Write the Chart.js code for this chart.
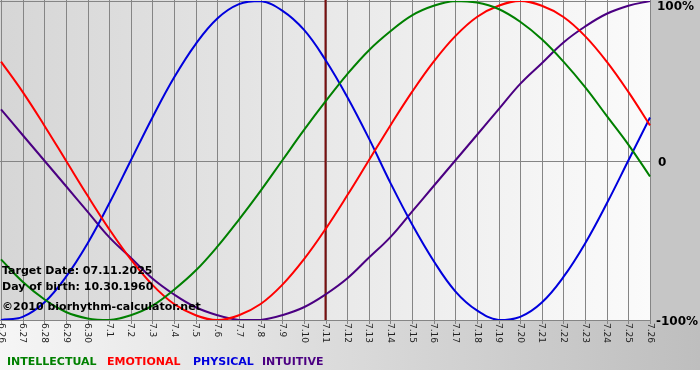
<!DOCTYPE html>
<html>
<head>
<meta charset="utf-8">
<script src="https://cdn.jsdelivr.net/npm/chart.js@4.4.1/dist/chart.umd.min.js"></script>
<style>
  html, body { margin: 0; padding: 0; background: #fff; }
  canvas { display: block; }
</style>
</head>
<body>
<canvas id="bio" width="700" height="380"></canvas>
<script>
// Chart data
const days = ['6.26', '6.27', '6.28', '6.29', '6.30', '7.1', '7.2', '7.3', '7.4', '7.5', '7.6', '7.7', '7.8', '7.9', '7.10',
    '7.11', '7.12', '7.13', '7.14', '7.15', '7.16', '7.17', '7.18', '7.19', '7.20', '7.21', '7.22', '7.23', '7.24', '7.25', '7.26'];
const intellectual = [-62, -76, -87, -95, -99, -100, -97, -91, -81, -69, -54, -37, -19, 0, 19, 37, 54, 69, 81, 91, 97, 100, 99, 95, 87, 76, 62, 46, 28, 10, -10];
const emotional = [62, 43, 22, 0, -22, -43, -62, -78, -90, -97, -100, -97, -90, -78, -62, -43, -22, 0, 22, 43, 62, 78, 90, 97, 100, 97, 90, 78, 62, 43, 22];
const physical = [-100, -98, -89, -73, -52, -27, 0, 27, 52, 73, 89, 98, 100, 94, 82, 63, 40, 14, -14, -40, -63, -82, -94, -100, -98, -89, -73, -52, -27, 0, 27];
const intuitive = [32, 16, 0, -16, -32, -48, -61, -74, -84, -92, -97, -100, -100, -97, -92, -84, -74, -61, -48, -32, -16, 0, 16, 32, 48, 61, 74, 84, 92, 97, 100];
const yTicks = [100, 0, -100];
const yTickLabels = ['100%', '0', '-100%'];
const targetDay = '7.11';
const infoLines = ['Target Date: 07.11.2025', 'Day of birth: 10.30.1960', '\u00a92010 biorhythm-calculator.net'];
const legendNames = ['INTELLECTUAL', 'EMOTIONAL', 'PHYSICAL', 'INTUITIVE'];

const colors = ['#008000', '#ff0000', '#0000dd', '#4b0082'];

// Backgrounds, grid and labels drawn around the chart area
const frame = {
    id: 'frame',
    beforeDraw(chart) {
        const ctx = chart.ctx;
        const a = chart.chartArea;
        const W = chart.width;

        ctx.save();
        // right strip
        ctx.fillStyle = '#c6c6c6';
        ctx.fillRect(a.right, 0, W - a.right, a.bottom + 2);
        // bottom band
        let g = ctx.createLinearGradient(0, 0, W, 0);
        g.addColorStop(0, '#f6f6f6');
        g.addColorStop(1, '#bebebe');
        ctx.fillStyle = g;
        ctx.fillRect(0, a.bottom, W, 370 - a.bottom);
        // plot area
        g = ctx.createLinearGradient(a.left, 0, a.right, 0);
        g.addColorStop(0, '#d6d6d6');
        g.addColorStop(1, '#fbfbfb');
        ctx.fillStyle = g;
        ctx.fillRect(0, 0, a.right, a.bottom);

        // grid
        const x = chart.scales.x, y = chart.scales.y;
        ctx.strokeStyle = '#858585';
        ctx.lineWidth = 1;
        ctx.beginPath();
        days.forEach((d, i) => {
            const px = Math.round(x.getPixelForValue(i)) + 0.5;
            ctx.moveTo(px, 0);
            ctx.lineTo(px, a.bottom + 4);
        });
        yTicks.forEach(v => {
            const py = Math.round(y.getPixelForValue(v)) + 0.5;
            ctx.moveTo(0, py);
            ctx.lineTo(a.right, py);
        });
        ctx.stroke();

        // target day marker
        const tx = x.getPixelForValue(days.indexOf(targetDay));
        ctx.strokeStyle = '#7a1010';
        ctx.lineWidth = 2;
        ctx.beginPath();
        ctx.moveTo(tx, 0);
        ctx.lineTo(tx, a.bottom);
        ctx.stroke();

        // x labels, rotated
        ctx.fillStyle = '#222';
        ctx.font = '9px "DejaVu Sans"';
        ctx.textAlign = 'left';
        ctx.textBaseline = 'middle';
        days.forEach((d, i) => {
            ctx.save();
            ctx.translate(x.getPixelForValue(i), a.bottom + 3);
            ctx.rotate(Math.PI / 2);
            ctx.fillText(d, 0, 0);
            ctx.restore();
        });

        // y labels on the right
        ctx.font = 'bold 12px "DejaVu Sans"';
        ctx.fillStyle = '#000';
        yTicks.forEach((v, i) => {
            const py = y.getPixelForValue(v);
            const lx = i === 1 ? 658 : (v > 0 ? 657 : 656);
            ctx.fillText(yTickLabels[i], lx, Math.min(Math.max(py + 2, 7), a.bottom + 2));
        });

        // legend
        ctx.font = 'bold 11px "DejaVu Sans"';
        const legendX = [7, 107, 193, 262];
        legendNames.forEach((n, i) => {
            ctx.fillStyle = colors[i];
            ctx.fillText(n, legendX[i], 362);
        });
        ctx.restore();
    },
    afterDatasetsDraw(chart) {
        const ctx = chart.ctx;
        ctx.save();
        ctx.font = 'bold 11px "DejaVu Sans"';
        ctx.fillStyle = '#000';
        ctx.textBaseline = 'middle';
        ctx.textAlign = 'left';
        const ys = [271, 287, 307];
        infoLines.forEach((t, i) => ctx.fillText(t, 2, ys[i]));
        ctx.restore();
    }
};

function series(data, color) {
    return {
        data: data,
        borderColor: color,
        borderWidth: 2,
        pointRadius: 0,
        tension: 0.4,
        fill: false
    };
}

new Chart(document.getElementById('bio'), {
    type: 'line',
    data: {
        labels: days,
        datasets: [
            series(intellectual, colors[0]),
            series(emotional, colors[1]),
            series(physical, colors[2]),
            series(intuitive, colors[3])
        ]
    },
    options: {
        responsive: false,
        animation: false,
        layout: { padding: { left: 1, right: 50, top: 1, bottom: 60 } },
        plugins: { legend: { display: false }, tooltip: { enabled: false } },
        scales: {
            x: { display: false },
            y: { display: false, min: -100, max: 100 }
        }
    },
    plugins: [frame]
});
</script>
</body>
</html>
